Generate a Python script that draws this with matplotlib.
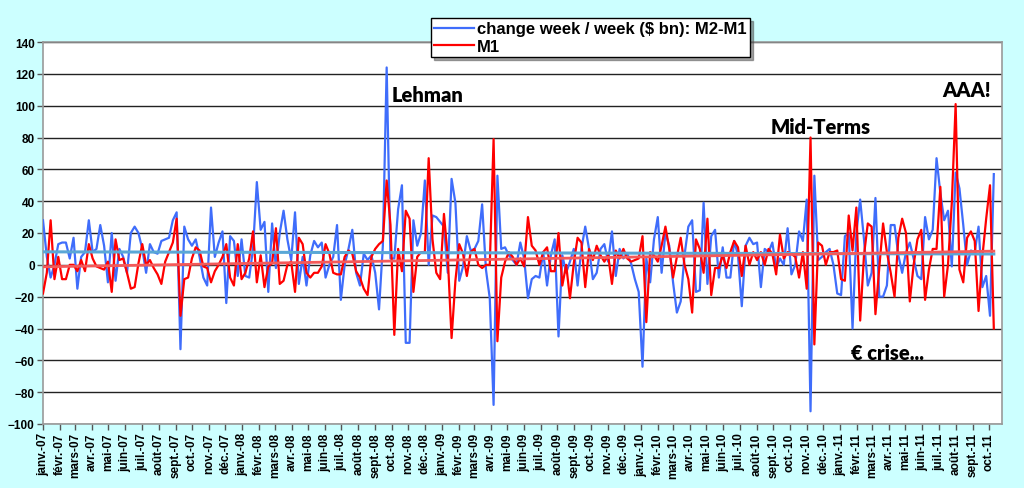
import matplotlib
matplotlib.use("Agg")
import matplotlib.pyplot as plt
import numpy as np
import datetime as dt

# weekly changes, $ bn, first week = 1 Jan 2007
start_date = dt.date(2007, 1, 1)

m2_m1 = [28, 5, -8, 0, 13, 14, 14, 4, 17, -15, 5, 8, 28, 8, 10, 25, 12, -11, 20, -10,
         10, 5, -5, 20, 24, 20, 10, -5, 13, 8, 7, 15, 16, 17, 28, 33, -53, 24, 16, 12,
         16, 5, -8, -13, 36, 5, 14, 21, -24, 18, 15, -7, 16, -7, -8, 10, 52, 22, 27, -17,
         26, -2, 20, 34, 16, 3, 33, -12, 5, -13, 6, 15, 11, 14, -8, 0, 5, 25, -22, 0,
         10, 22, -5, -13, 7, 3, 6, -5, -28, 12, 124, 4, 4, 35, 50, -49, -49, 28, 12, 20,
         53, 0, 31, 30, 27, 24, -5, 54, 39, -10, -1, 18, 9, 10, 15, 38, -3, -21, -88, 56,
         10, 11, 6, 3, 0, 14, 4, -21, -9, -7, -8, 8, -13, 6, 16, -45, 6, -5, 2, 10,
         -13, 10, 24, 10, -9, -5, 10, 13, 2, 21, -7, 10, 4, 7, 1, -9, -17, -64, 4, -11,
         16, 30, -5, 20, 12, -11, -30, -23, 6, 24, 28, -17, -16, 39, -12, 18, 22, -8, 11, -8,
         -8, 15, 6, -26, 12, 17, 13, 14, -14, 10, 8, 14, -2, 4, 0, 23, -6, 0, 21, 15,
         41, -92, 56, 3, 5, 8, 10, 0, -18, -19, 18, 20, -40, 20, 41, 16, -13, -5, 42, -20,
         -20, -13, 25, 25, 6, -5, 8, 14, 4, -7, -9, 30, 16, 22, 67, 45, 28, 34, -1, 58,
         48, 25, 0, 9, 8, 24, -14, -7, -32, 57]

m1 = [-18, -5, 28, -9, 5, -9, -9, 0, 0, -4, 3, -4, 13, 4, -1, -2, -3, 2, -17, 16,
      3, 4, -5, -15, -14, 1, 13, 0, 3, -2, -6, -12, 2, 8, 14, 29, -32, -9, -8, 4,
      11, 9, -1, -2, -11, -4, 0, 5, 13, -8, -13, 13, -9, -5, 4, 21, -11, 6, -14, -1,
      1, 23, -12, -10, 0, 2, -17, 17, 13, -5, -8, -5, -5, -1, 13, 7, -5, -6, -6, 5,
      9, 7, -4, -8, -15, -19, 5, 10, 13, 15, 53, 25, -44, 10, -4, 34, 29, -17, 5, 8,
      8, 67, 16, -5, -9, 32, 5, -46, -10, 13, 7, -7, 8, 10, 0, -2, 0, 0, 79, -48,
      -8, 2, 8, 5, 0, 4, -1, 30, 12, 9, 0, 8, 11, -4, -4, 20, -13, 0, -21, 1,
      17, 14, -14, 10, 3, 12, 6, 2, 6, -12, 9, 4, 10, 4, 2, 3, 4, 18, -36, 8,
      6, 2, 12, 24, 10, -8, 5, 17, 0, -9, -30, 16, 10, -5, 29, -19, -2, -2, 6, -2,
      8, 15, 11, -7, 12, 0, 8, 3, 8, 0, 10, 7, -6, 19, 4, 8, 7, 5, -8, 8,
      -15, 80, -50, 14, 12, 0, 8, 8, 9, -9, -10, 31, 9, 36, -35, 6, 26, 24, -31, -2,
      26, 8, -5, -20, 17, 29, 20, -23, 0, 16, 22, -22, -3, 10, 10, 49, -20, 0, 39, 101,
      -3, -11, 17, 21, 15, -29, 5, 29, 50, -40]

month_names = ['janv.', 'févr.', 'mars', 'avr.', 'mai', 'juin',
               'juil.', 'août', 'sept.', 'oct.', 'nov.', 'déc.']

series_labels = ['change week / week ($ bn): M2-M1', 'M1']

ann_texts = ['Lehman', 'Mid-Terms', 'AAA!', '€ crise...']
ann_dates = [dt.date(2008, 10, 1), dt.date(2010, 8, 26), dt.date(2011, 7, 8), dt.date(2011, 1, 22)]
ann_values = [107, 87, 110, -55]

plt.rcParams['font.family'] = ['Liberation Sans', 'DejaVu Sans']

dates = [start_date + dt.timedelta(days=7 * i) for i in range(len(m1))]
idx = np.arange(len(m1))

fig = plt.figure(figsize=(10.24, 4.89), dpi=100)
fig.patch.set_facecolor('#ccffff')
ax = fig.add_axes([43 / 1024, 1 - 425 / 489, (1002 - 43) / 1024, (425 - 43) / 489])
ax.set_facecolor('white')

l1, = ax.plot(dates, m2_m1, color='#3f6dfb', lw=1.6, zorder=3)
l2, = ax.plot(dates, m1, color='#ff0000', lw=1.6, zorder=4)

# linear trends (like excel trendlines)
c1 = np.polyfit(idx, m2_m1, 1)
c2 = np.polyfit(idx, m1, 1)
ax.plot(dates, np.polyval(c1, idx), color='#5aa7d6', lw=2.2, zorder=5)
ax.plot(dates, np.polyval(c2, idx), color='#f45a5a', lw=2.0, zorder=5)

ax.set_ylim(-100, 140)
ax.set_yticks(range(-100, 141, 20))
ax.yaxis.grid(True, color='#222222', lw=1.0)
ax.set_axisbelow(True)

ax.set_xlim(start_date, dt.date(2011, 10, 25))
ticks = []
labels = []
for y in range(2007, 2012):
    for m in range(1, 13):
        if y == 2011 and m > 10:
            break
        ticks.append(dt.date(y, m, 1))
        labels.append(month_names[m - 1] + '-' + str(y)[2:])
ax.set_xticks(ticks)
ax.set_xticklabels(labels, rotation=90, fontsize=8.5, fontweight='bold')
for t in ax.get_yticklabels():
    t.set_fontweight('bold')
    t.set_fontsize(8.5)
ax.tick_params(axis='x', length=4, width=1, color='#555555', pad=2)
ax.tick_params(axis='y', length=4, width=1, color='#555555', pad=2)

for s in ax.spines.values():
    s.set_color('#999999')
    s.set_linewidth(1.2)

for txt, d, v in zip(ann_texts, ann_dates, ann_values):
    ax.text(d, v, txt, fontsize=14.5, fontweight='heavy', va='center', ha='left',
            family=['Lato', 'DejaVu Sans'], zorder=6)

leg = fig.legend([l1, l2], series_labels, loc='upper left',
                 bbox_to_anchor=(431 / 1024, 1 - 19 / 489), fancybox=False, shadow=True,
                 framealpha=1, edgecolor='black', handlelength=2.4,
                 handletextpad=0.15, labelspacing=0.15, borderpad=0.2, borderaxespad=0,
                 prop={'weight': 'bold', 'size': 12})
leg.get_frame().set_linewidth(1.0)

fig.savefig('out.png', dpi=100, facecolor=fig.get_facecolor())
